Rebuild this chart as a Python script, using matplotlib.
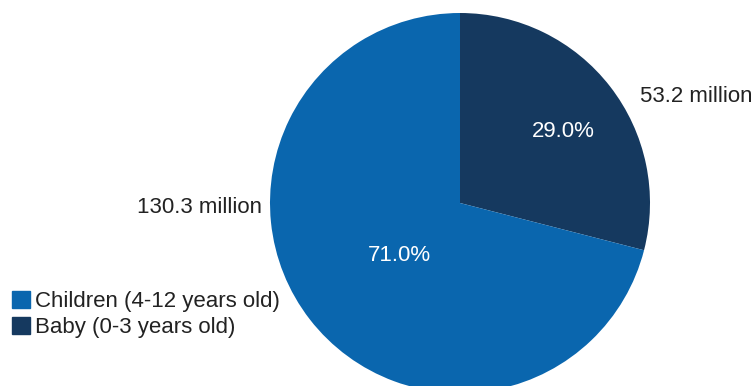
import matplotlib
matplotlib.use("Agg")
import matplotlib.pyplot as plt
import numpy as np

plt.rcParams['font.family'] = ['Liberation Sans', 'DejaVu Sans']

# Data
categories = ["Baby (0-3 years old)", "Children (4-12 years old)"]
shares = [29.0, 71.0]
populations = ["53.2 million", "130.3 million"]
colors = ["#15395F", "#0A66AE"]

W, H = 755, 386
fig = plt.figure(figsize=(W / 100, H / 100), dpi=100)
ax = fig.add_axes([0, 0, 1, 1])

cx, cy, r = 460, H - 203, 190
wedges, _ = ax.pie(shares, colors=colors, startangle=90, counterclock=False,
                   center=(cx, cy), radius=r, frame=True,
                   wedgeprops=dict(linewidth=0))
ax.set_xlim(0, W)
ax.set_ylim(0, H)
ax.set_aspect('equal')
ax.axis('off')

# Percentage labels inside wedges (glyph-centred, so nudge for descender space)
pct_dist = [0.67, 0.41]
pct_shift = [-2.0, 1.5]  # angular nudges in degrees
for w, s, d, sh in zip(wedges, shares, pct_dist, pct_shift):
    ang = np.deg2rad((w.theta1 + w.theta2) / 2 + sh)
    ax.text(cx + d * r * np.cos(ang), cy + d * r * np.sin(ang) - 3, f"{s:.1f}%",
            color="white", fontsize=16, ha="center", va="center")

# Population labels outside
ax.text(640, H - 101.5, populations[0], fontsize=16, color="#222222",
        ha="left", va="baseline")
ax.text(262, H - 213, populations[1], fontsize=16, color="#222222",
        ha="right", va="baseline")

# Legend: Children first, then Baby
handles = [plt.Rectangle((0, 0), 1, 1, color=colors[1]),
           plt.Rectangle((0, 0), 1, 1, color=colors[0])]
labels = [categories[1], categories[0]]
ax.legend(handles, labels, loc="lower left", bbox_to_anchor=(12 / W, 48 / H),
          frameon=False, fontsize=16, handlelength=0.8, handleheight=0.8,
          handletextpad=0.25, labelspacing=0.22, borderpad=0, borderaxespad=0,
          labelcolor="#222222")

fig.savefig("out.png", dpi=100)
